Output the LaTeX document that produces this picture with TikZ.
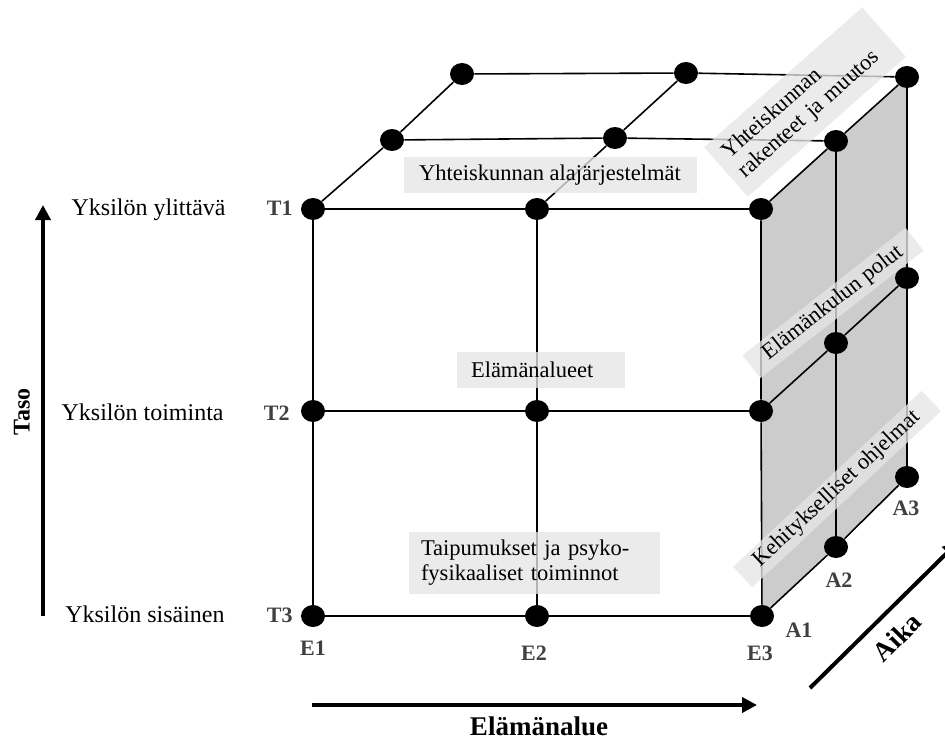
\documentclass[tikz,border=0pt]{standalone}
\usepackage{fontspec}
\setmainfont{Liberation Serif}
\usepackage{xcolor}
\usepackage{tikz}
\usetikzlibrary{arrows.meta, shapes.geometric, backgrounds}
\definecolor{facegray}{gray}{0.8}
\definecolor{boxgray}{gray}{0.9}
\definecolor{tagcol}{gray}{0.25}

\tikzset{
  dot/.style={ellipse, fill=black, minimum width=24pt, minimum height=22pt, inner sep=0pt},
  cube/.style={line width=1.6pt},
  area/.style={fill=boxgray, fill opacity=0.78, text opacity=1, inner sep=0pt, font=\fontsize{22.5}{25}\selectfont},
  tag/.style={font=\bfseries\fontsize{22}{24}\selectfont, text=tagcol, inner sep=0pt},
  level/.style={font=\fontsize{24}{28}\selectfont, inner sep=0pt},
  dimlabel/.style={font=\bfseries\fontsize{27}{30}\selectfont, inner sep=0pt},
}

\begin{document}
\begin{tikzpicture}[x=1pt, y=-1pt,
				>={Triangle[length=15pt, width=15pt]},
				thick]
				\useasboundingbox (0,0) rectangle (945,742);
				\clip (0,0) rectangle (945,742);
				% front face
				\node[dot] (t1e1) at (313,209) {};
				\node[dot] (t1e2) at (537,209) {};
				\node[dot] (t1e3) at (761,209) {};
				\node[dot] (t2e1) at (313,411) {};
				\node[dot] (t2e2) at (537,411) {};
				\node[dot] (t2e3) at (761,411) {};
				\node[dot] (t3e1) at (313,616) {};
				\node[dot] (t3e2) at (537,616) {};
				\node[dot] (t3e3) at (762,616) {};
				% top and right faces
				\node[dot] (t1e1b) at (392,140) {};
				\node[dot] (t1e2b) at (615,138) {};
				\node[dot] (t1e3b) at (836,141) {};
				\node[dot] (t1e1c) at (462,74) {};
				\node[dot] (t1e2c) at (686,73) {};
				\node[dot] (t1e3c) at (907,77) {};
				\node[dot] (t2e3b) at (836,343) {};
				\node[dot] (t2e3c) at (907,278) {};
				\node[dot] (t3e3b) at (836,547) {};
				\node[dot] (t3e3c) at (907,477) {};
				\begin{scope}[on background layer]
					\fill[facegray] (t1e3.center) -- (t1e3c.center) -- (t3e3c.center) -- (t3e3.center) -- cycle;
				\end{scope}
				\draw[cube] (t1e1) -- (t1e2) -- (t1e3);
				\draw[cube] (t2e1) -- (t2e2) -- (t2e3);
				\draw[cube] (t3e1) -- (t3e2) -- (t3e3);
				\draw[cube] (t1e1) -- (t2e1) -- (t3e1);
				\draw[cube] (t1e2) -- (t2e2) -- (t3e2);
				\draw[cube] (t1e3) -- (t2e3) -- (t3e3);
				\draw[cube] (t1e1b) -- (t1e2b) -- (t1e3b);
				\draw[cube] (t1e1c) -- (t1e2c) -- (t1e3c);
				\draw[cube] (t1e1) -- (t1e1b) -- (t1e1c);
				\draw[cube] (t1e2) -- (t1e2b) -- (t1e2c);
				\draw[cube] (t1e3) -- (t1e3b) -- (t1e3c);
				\draw[cube] (t2e3) -- (t2e3b) -- (t2e3c);
				\draw[cube] (t3e3) -- (t3e3b) -- (t3e3c);
				\draw[cube] (t1e3b) -- (t2e3b) -- (t3e3b);
				\draw[cube] (t1e3c) -- (t2e3c) -- (t3e3c);
				% grey labels
				\node[area, minimum width=293pt, minimum height=36pt] (subsys) at (550,175) {Yhteiskunnan alajärjestelmät};
				\node[area, minimum width=168pt, minimum height=36pt, text width=140pt, align=left] (domains) at (541,370) {Elämänalueet};
				\node[area, minimum width=251pt, minimum height=62pt, text width=227pt, align=left] (disp) at (534.5,563) {Taipumukset ja psyko-\\fysikaaliset toiminnot};
				\node[area, rotate=41.5, minimum width=211pt, minimum height=66pt, text width=190pt, align=left] (struct) at (805,102) {Yhteiskunnan\\rakenteet ja muutos};
				\node[area, rotate=38, minimum width=207pt, minimum height=29pt] (paths) at (833,303) {Elämänkulun polut};
				\node[area, rotate=43, minimum width=258pt, minimum height=28pt] (progs) at (837,489) {Kehitykselliset ohjelmat};
				% point tags
				\node[tag, anchor=base east] (T1) at (293,215) {T1};
				\node[tag, anchor=base east] (T2) at (290,420) {T2};
				\node[tag, anchor=base east] (T3) at (293,622) {T3};
				\node[tag, anchor=base] (E1) at (313,655) {E1};
				\node[tag, anchor=base] (E2) at (534,660) {E2};
				\node[tag, anchor=base] (E3) at (760,660) {E3};
				\node[tag, anchor=base] (A1) at (799,637) {A1};
				\node[tag, anchor=base] (A2) at (839,587) {A2};
				\node[tag, anchor=base] (A3) at (906,515) {A3};
				\node[level, anchor=base east] (lvtop) at (226,215) {Yksilön ylittävä};
				\node[level, anchor=base east] (lvmid) at (224,420) {Yksilön toiminta};
				\node[level, anchor=base east] (lvlow) at (225,622) {Yksilön sisäinen};
				% dimension arrows
				\coordinate (tasoS) at (43,616);
				\coordinate (tasoN) at (43,205);
				\coordinate (alueW) at (312,705);
				\coordinate (alueE) at (757,705);
				\coordinate (aikaS) at (810,688);
				\coordinate (aikaN) at (958,542);
				\draw[->, line width=4pt] (tasoS) -- (tasoN);
				\draw[->, line width=4pt] (alueW) -- (alueE);
				\draw[->, line width=4pt] (aikaS) -- (aikaN);
				\node[dimlabel, font=\bfseries\fontsize{24}{28}\selectfont, rotate=90] (taso) at (22,412) {Taso};
				\node[dimlabel, anchor=base] (alue) at (539,735) {Elämänalue};
				\node[dimlabel, rotate=45] (aika) at (897,637) {Aika};
			\end{tikzpicture}
\end{document}
